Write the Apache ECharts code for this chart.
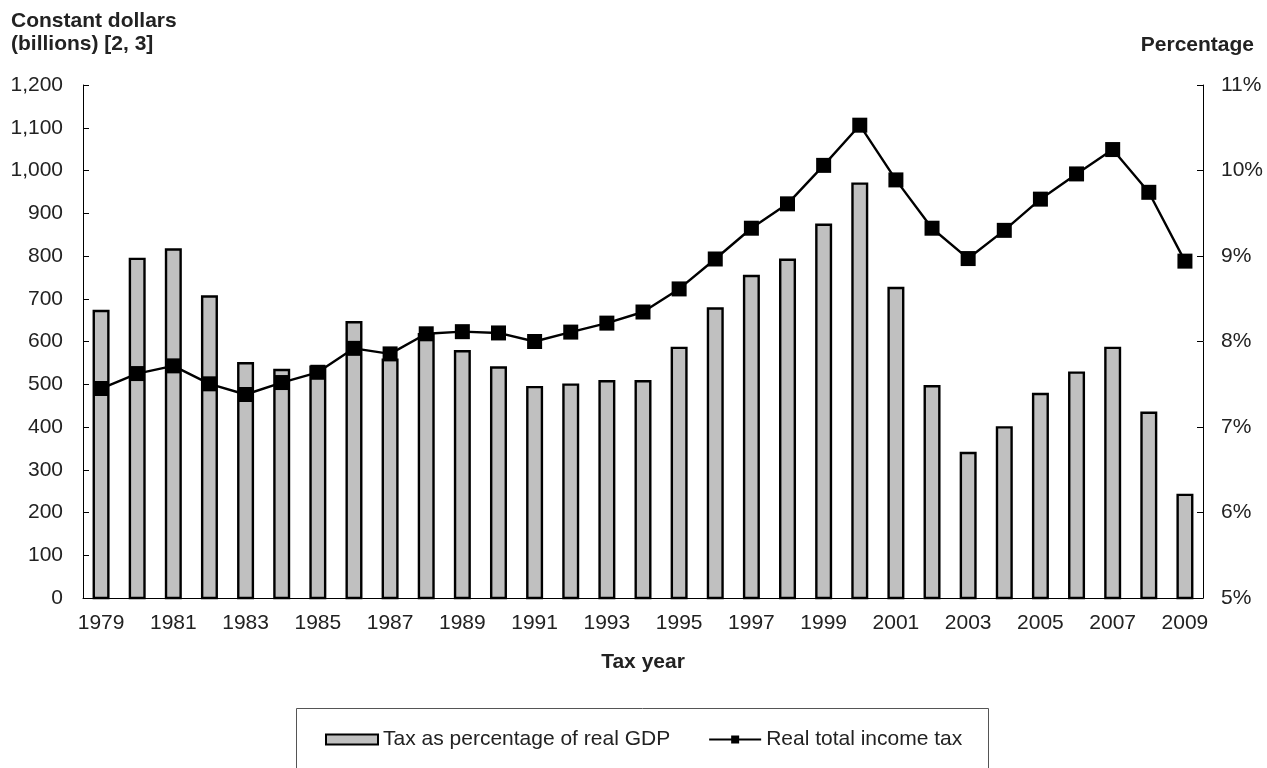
<!DOCTYPE html>
<html>
<head>
<meta charset="utf-8">
<title>Real total income tax and tax as percentage of real GDP, 1979-2009</title>
<script src="https://cdn.jsdelivr.net/npm/echarts@6/dist/echarts.min.js"></script>
<style>
  html, body { margin: 0; padding: 0; background: #ffffff; }
  #chart { width: 1267px; height: 768px; }
</style>
</head>
<body>
<div id="chart"></div>
<script>
// Tax years on the category axis
const years = [
  '1979','1980','1981','1982','1983','1984','1985','1986','1987','1988',
  '1989','1990','1991','1992','1993','1994','1995','1996','1997','1998',
  '1999','2000','2001','2002','2003','2004','2005','2006','2007','2008','2009'
];

// Tax as percentage of real GDP (right axis, percent)
const taxPctGdp = [
  8.37, 8.98, 9.09, 8.54, 7.76, 7.68, 7.72, 8.24, 7.80, 8.10,
  7.90, 7.71, 7.48, 7.51, 7.55, 7.55, 7.94, 8.40, 8.78, 8.97,
  9.38, 9.86, 8.64, 7.49, 6.71, 7.01, 7.40, 7.65, 7.94, 7.18, 6.22
];

// Real total income tax, constant dollars in billions (left axis)
const realIncomeTax = [
  490, 525, 543, 501, 476, 504, 528, 584, 571, 618,
  623, 620, 600, 622, 643, 669, 723, 793, 865, 922,
  1012, 1106, 978, 865, 794, 860, 933, 992, 1049, 949, 788
];

// Axis ranges and tick steps
const leftAxisRange = [0, 1200, 100];
const rightAxisRange = [5, 11, 1];

const FONT = '"Liberation Sans", Arial, sans-serif';
const TEXT = '#222222';
const FS = 21;

function withCommas(v) {
  return String(v).replace(/\B(?=(\d{3})+(?!\d))/g, ',');
}

const chart = echarts.init(document.getElementById('chart'), null, { renderer: 'canvas' });

chart.setOption({
  backgroundColor: '#ffffff',
  animation: false,
  textStyle: { fontFamily: FONT },
  title: [
    {
      text: 'Constant dollars\n(billions) [2, 3]',
      left: 11,
      top: 10,
      padding: 0,
      textStyle: { fontFamily: FONT, fontSize: FS, fontWeight: 'bold', color: TEXT, lineHeight: 23 }
    },
    {
      text: 'Percentage',
      right: 13,
      top: 34,
      padding: 0,
      textStyle: { fontFamily: FONT, fontSize: FS, fontWeight: 'bold', color: TEXT, lineHeight: 23 }
    }
  ],
  grid: { left: 83, right: 64, top: 85, bottom: 170, containLabel: false },
  legend: {
    left: 325,
    top: 729,
    padding: 0,
    itemWidth: 52,
    itemHeight: 10,
    itemGap: 38,
    textStyle: { fontFamily: FONT, fontSize: FS, color: TEXT },
    data: [
      { name: 'Tax as percentage of real GDP', icon: 'rect' },
      { name: 'Real total income tax' }
    ]
  },
  graphic: [
    {
      type: 'rect',
      shape: { x: 296.5, y: 708.5, width: 692, height: 80 },
      style: { fill: 'none', stroke: '#555555', lineWidth: 1 },
      silent: true
    }
  ],
  xAxis: {
    type: 'category',
    data: years,
    boundaryGap: true,
    name: 'Tax year',
    nameLocation: 'middle',
    nameGap: 54,
    nameTextStyle: { fontFamily: FONT, fontSize: FS, fontWeight: 'bold', color: TEXT },
    axisLine: { lineStyle: { color: '#000000', width: 1 } },
    axisTick: { show: false },
    axisLabel: { interval: 1, margin: 15, fontFamily: FONT, fontSize: FS, color: TEXT },
    splitLine: { show: false }
  },
  yAxis: [
    {
      type: 'value',
      position: 'left',
      min: leftAxisRange[0],
      max: leftAxisRange[1],
      interval: leftAxisRange[2],
      axisLine: { show: true, lineStyle: { color: '#000000', width: 1 } },
      axisTick: { show: true, inside: true, length: 6, lineStyle: { color: '#000000' } },
      axisLabel: { margin: 20, fontFamily: FONT, fontSize: FS, color: TEXT, formatter: v => withCommas(v) },
      splitLine: { show: false }
    },
    {
      type: 'value',
      position: 'right',
      min: rightAxisRange[0],
      max: rightAxisRange[1],
      interval: rightAxisRange[2],
      axisLine: { show: true, lineStyle: { color: '#000000', width: 1 } },
      axisTick: { show: true, inside: true, length: 6, lineStyle: { color: '#000000' } },
      axisLabel: { margin: 18, fontFamily: FONT, fontSize: FS, color: TEXT, formatter: '{value}%' },
      splitLine: { show: false }
    }
  ],
  series: [
    {
      name: 'Tax as percentage of real GDP',
      type: 'bar',
      yAxisIndex: 1,
      data: taxPctGdp,
      barWidth: 17,
      itemStyle: { color: '#C0C0C0', borderColor: '#000000', borderWidth: 2.4 }
    },
    {
      name: 'Real total income tax',
      type: 'line',
      yAxisIndex: 0,
      data: realIncomeTax,
      symbol: 'rect',
      symbolSize: 15,
      lineStyle: { color: '#000000', width: 2.4 },
      itemStyle: { color: '#000000' },
      z: 3
    }
  ]
});
</script>
</body>
</html>
